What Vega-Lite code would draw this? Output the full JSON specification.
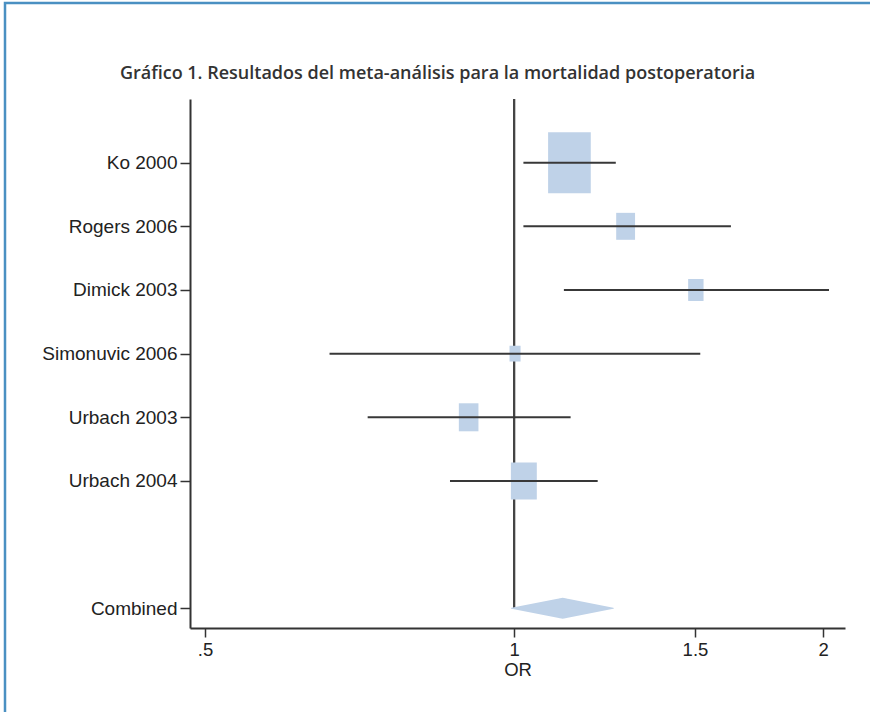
{
  "$schema": "https://vega.github.io/schema/vega-lite/v6.json",
  "autosize": {"type": "none"},
  "width": 865,
  "height": 709,
  "padding": {"left": 5, "top": 3, "right": 0, "bottom": 0},
  "background": "white",
  "title": {
    "text": "Gráfico 1. Resultados del meta-análisis para la mortalidad postoperatoria",
    "anchor": "middle",
    "frame": "group",
    "orient": "top",
    "offset": -94,
    "baseline": "alphabetic",
    "font": "Open Sans",
    "fontSize": 18,
    "fontWeight": 600,
    "color": "#333333"
  },
  "config": {
    "view": {"stroke": "#4a90c2", "strokeWidth": 2.5, "strokeDash": [865, 1574, 709, 100000]},
    "font": "Liberation Sans"
  },
  "data": {
    "values": [
      {"study": "Ko 2000", "or": 1.132, "lo": 1.021, "hi": 1.256, "weight": 50.7},
      {"study": "Rogers 2006", "or": 1.284, "lo": 1.021, "hi": 1.626, "weight": 9.9},
      {"study": "Dimick 2003", "or": 1.503, "lo": 1.118, "hi": 2.026, "weight": 6.6},
      {"study": "Simonuvic 2006", "or": 1.002, "lo": 0.661, "hi": 1.518, "weight": 3.4},
      {"study": "Urbach 2003", "or": 0.903, "lo": 0.720, "hi": 1.135, "weight": 10.7},
      {"study": "Urbach 2004", "or": 1.022, "lo": 0.866, "hi": 1.206, "weight": 18.7},
      {"study": "Combined", "or": 1.115, "lo": 0.994, "hi": 1.249}
    ]
  },
  "layer": [
    {
      "mark": {"type": "rule", "color": "#444444", "strokeWidth": 1.8},
      "encoding": {
        "x": {
          "datum": 1,
          "type": "quantitative",
          "title": "OR",
          "scale": {"type": "log", "domain": [0.4834, 2.1], "range": [185, 840], "nice": false, "zero": false},
          "axis": {
            "values": [0.5, 1, 1.5, 2],
            "labelExpr": "datum.value == 0.5 ? '.5' : format(datum.value, '~g')",
            "offset": -84,
            "grid": false,
            "domainColor": "#333333",
            "domainWidth": 2,
            "tickColor": "#333333",
            "tickWidth": 1.5,
            "tickSize": 9,
            "labelFont": "Liberation Sans",
            "labelFontSize": 18.5,
            "labelColor": "#222222",
            "labelPadding": 3,
            "labelFlush": false,
            "titleFont": "Liberation Sans",
            "titleFontSize": 18.5,
            "titleFontWeight": "normal",
            "titleColor": "#222222",
            "titlePadding": 2
          }
        },
        "y": {
          "datum": " ",
          "type": "ordinal",
          "title": null,
          "scale": {
            "type": "point",
            "domain": [" ", "Ko 2000", "Rogers 2006", "Dimick 2003", "Simonuvic 2006", "Urbach 2003", "Urbach 2004", "  ", "Combined"],
            "range": [96, 625],
            "padding": 0.155,
            "align": 0
          },
          "axis": {
            "values": ["Ko 2000", "Rogers 2006", "Dimick 2003", "Simonuvic 2006", "Urbach 2003", "Urbach 2004", "Combined"],
            "offset": -185,
            "grid": false,
            "domainColor": "#333333",
            "domainWidth": 2,
            "tickColor": "#333333",
            "tickWidth": 1.5,
            "tickSize": 10,
            "labelFont": "Liberation Sans",
            "labelFontSize": 19,
            "labelColor": "#222222",
            "labelPadding": 3
          }
        },
        "y2": {"datum": "Combined"}
      }
    },
    {
      "transform": [{"filter": "isValid(datum.weight)"}],
      "mark": {
        "type": "point",
        "shape": "M-0.7,-1L0.7,-1L0.7,1L-0.7,1Z",
        "filled": true,
        "color": "#bfd2e8",
        "opacity": 1,
        "strokeWidth": 0
      },
      "encoding": {
        "x": {"field": "or", "type": "quantitative", "title": "OR"},
        "y": {"field": "study", "type": "ordinal", "title": null},
        "size": {"field": "weight", "type": "quantitative", "legend": null, "scale": {"type": "linear", "domain": [0, 100], "range": [0, 7333]}}
      }
    },
    {
      "transform": [{"filter": "datum.study != 'Combined'"}],
      "mark": {"type": "rule", "color": "#383838", "strokeWidth": 2},
      "encoding": {
        "x": {"field": "lo", "type": "quantitative", "title": "OR"},
        "x2": {"field": "hi"},
        "y": {"field": "study", "type": "ordinal", "title": null}
      }
    },
    {
      "transform": [
        {"filter": "datum.study == 'Combined'"},
        {"fold": ["lo", "or", "hi"], "as": ["key", "value"]}
      ],
      "mark": {"type": "trail", "color": "#bfd2e8"},
      "encoding": {
        "x": {"field": "value", "type": "quantitative", "title": "OR"},
        "y": {"field": "study", "type": "ordinal", "title": null},
        "order": {"field": "value", "type": "quantitative"},
        "size": {"condition": {"test": "datum.key == 'or'", "value": 21}, "value": 0}
      }
    }
  ]
}
